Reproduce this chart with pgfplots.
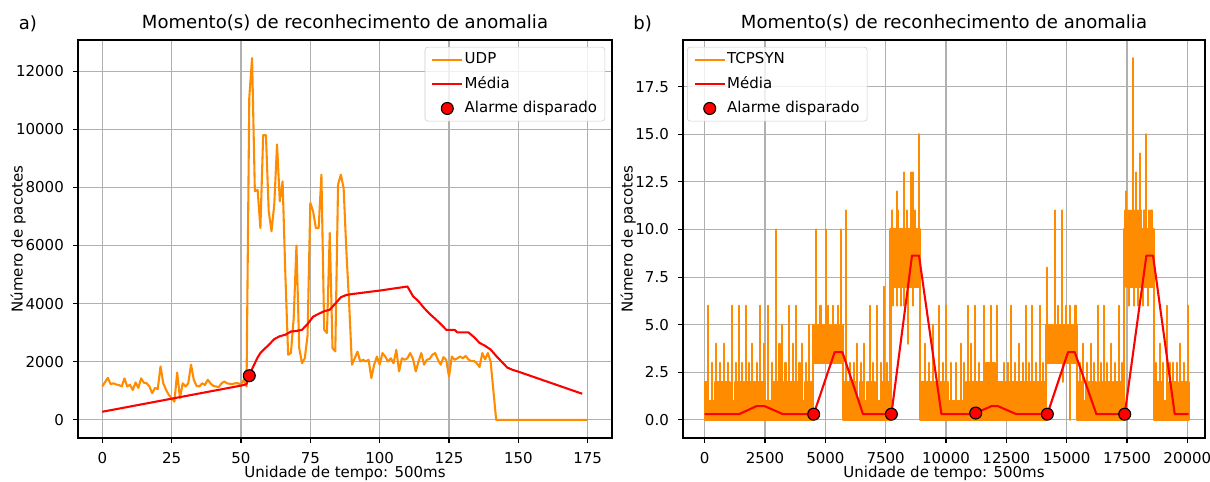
\documentclass[border=0pt]{standalone}
\usepackage{pgfplots}
\pgfplotsset{compat=1.18}
\usepackage{fontspec}
\setmainfont{DejaVu Sans}

\definecolor{serie}{RGB}{255,140,0}
\definecolor{media}{RGB}{255,0,0}
\definecolor{grade}{RGB}{176,176,176}
\definecolor{borda}{RGB}{204,204,204}

\pgfplotsset{
  painel/.style={
    scale only axis,
    axis line style={line width=0.8pt},
    grid=major,
    grid style={grade, line width=0.8pt},
    tick align=outside,
    major tick length=3.5pt,
    tick style={black, line width=0.8pt},
    xtick pos=lower, ytick pos=left,
    scaled x ticks=false, scaled y ticks=false,
    /pgf/number format/assume math mode=true,
    /pgf/number format/1000 sep={},
    /pgf/number format/fixed,
    ticklabel style={font=\fontsize{10.8}{13}\selectfont},
    xticklabel style={inner sep=0pt, anchor=north, yshift=-6.5pt},
    yticklabel style={inner sep=0pt, anchor=east, xshift=-6.5pt},
    label style={font=\fontsize{10.8}{13}\selectfont},
    xlabel style={at={(axis description cs:0.5,0)}, anchor=center, yshift=-25.5pt},
    title style={font=\fontsize{13}{15}\selectfont, at={(0.5,1)}, anchor=base, yshift=2pt},
    legend style={font=\fontsize{10.8}{13}\selectfont, draw=borda, rounded corners=2pt,
      fill=white, fill opacity=0.8, text opacity=1, draw opacity=1, inner xsep=4.5pt, inner ysep=3pt,
      row sep=5.3pt, column sep=0pt,
      nodes={inner sep=1pt, text height=8pt, text depth=2.2pt}},
    legend cell align=left,
    legend image code/.code={\draw[##1] (0pt,0pt) -- (21.6pt,0pt);},
  },
  alarme/.style={only marks, mark=*, mark size=4.3pt,
    mark options={fill=media, draw=black, line width=0.8pt, fill opacity=1, draw opacity=1},
    legend image code/.code={%
      \draw[mark repeat=2, mark phase=2, ##1]
        plot coordinates {(0pt,0pt) (10.8pt,0pt) (21.6pt,0pt)};}},
}

\begin{document}
\begin{tikzpicture}
\useasboundingbox (0,0) rectangle (871.2pt,347.04pt);

\node[anchor=base west, font=\fontsize{13}{15}\selectfont] at (10pt,326.1pt) {a)};
\node[anchor=base west, font=\fontsize{13}{15}\selectfont] at (452.5pt,326.1pt) {b)};

% ---------------- a) UDP ----------------
\begin{axis}[painel,
  at={(56.16pt,31.68pt)}, anchor=south west,
  width=384.48pt, height=286.56pt,
  xmin=-8.75, xmax=183.75, ymin=-622.5, ymax=13072.5,
  xtick={0,25,...,175}, ytick={0,2000,...,12000},
  title={Momento(s) de reconhecimento de anomalia},
  xlabel={Unidade de tempo: 500ms},
  ylabel={Número de pacotes},
  ylabel style={at={(axis description cs:-0.112,0.5)}, anchor=center},
  legend style={at={(1,1)}, anchor=north east, xshift=-5pt, yshift=-5pt},
]
\addplot[serie, line width=1.5pt, line join=round] coordinates {
(0,1150)(1,1300)(2,1450)(3,1230)(4,1260)(5,1220)(6,1200)(7,1150)(8,1430)(9,1150)
(10,1210)(11,1030)(12,1290)(13,1100)(14,1430)(15,1280)(16,1260)(17,1150)(18,920)(19,1100)
(20,1060)(21,1840)(22,1260)(23,1030)(24,860)(25,750)(26,630)(27,1630)(28,750)(29,1260)
(30,1150)(31,1260)(32,1900)(33,1380)(34,1170)(35,1150)(36,1260)(37,1200)(38,1380)(39,1260)
(40,1170)(41,1150)(42,1130)(43,1260)(44,1320)(45,1260)(46,1240)(47,1240)(48,1260)(49,1260)
(50,1210)(51,1380)(52,1150)(53,11100)(54,12450)(55,7870)(56,7920)(57,6600)(58,9800)(59,9800)
(60,7180)(61,6490)(62,7410)(63,9480)(64,7520)(65,8210)(66,5000)(67,2240)(68,2300)(69,3500)
(70,6000)(71,2470)(72,1950)(73,2120)(74,2900)(75,7470)(76,7180)(77,6600)(78,6600)(79,8440)
(80,3100)(81,2990)(82,6430)(83,2470)(84,2360)(85,8100)(86,8440)(87,7980)(88,5800)(89,4000)
(90,1900)(91,2120)(92,2350)(93,2010)(94,2070)(95,2010)(96,2070)(97,1440)(98,1900)(99,2180)
(100,1900)(101,2300)(102,2180)(103,2010)(104,2120)(105,1950)(106,2410)(107,1670)(108,2120)(109,2070)
(110,2120)(111,2300)(112,2100)(113,1670)(114,2000)(115,2300)(116,1900)(117,2070)(118,2100)(119,2240)
(120,2300)(121,2070)(122,1900)(123,2160)(124,2060)(125,1490)(126,2180)(127,2070)(128,2120)(129,2180)
(130,2120)(131,2200)(132,2080)(133,2020)(134,2030)(135,1950)(136,1820)(137,2300)(138,2080)(139,2300)
(140,2000)(141,1000)(142,0)(175,0)
};
\addlegendentry{UDP}
\addplot[media, line width=1.5pt, line join=round] coordinates {
(0,280)(10,460)(20,640)(30,820)(40,1000)(50,1180)(51,1200)(52,1230)(53,1520)(54,1750)
(55,1950)(56,2150)(57,2300)(58,2400)(60,2580)(62,2780)(64,2880)(66,2930)(68,3040)(70,3060)
(72,3100)(74,3300)(76,3550)(78,3650)(80,3740)(82,3790)(84,4000)(86,4220)(88,4300)(90,4330)
(100,4450)(110,4590)(112,4260)(114,4080)(116,3850)(118,3650)(120,3480)(122,3300)(124,3100)
(127,3100)(128,3010)(132,3010)(134,2850)(136,2650)(138,2550)(140,2420)(142,2200)(144,2000)
(146,1800)(148,1720)(150,1660)(173,900)
};
\addlegendentry{Média}
\addplot[alarme] coordinates {(53,1520)};
\addlegendentry{Alarme disparado}
\end{axis}

% ---------------- b) TCPSYN ----------------
\begin{axis}[painel,
  at={(491.76pt,31.68pt)}, anchor=south west,
  width=375.84pt, height=286.56pt,
  xmin=-899, xmax=20733, ymin=-0.95, ymax=19.95,
  xtick={0,2500,...,20000}, ytick={0,2.5,...,17.5},
  yticklabel style={/pgf/number format/.cd, fixed, fixed zerofill, precision=1},
  title={Momento(s) de reconhecimento de anomalia},
  xlabel={Unidade de tempo: 500ms},
  ylabel={Número de pacotes},
  ylabel style={at={(axis description cs:-0.105,0.5)}, anchor=center},
  legend style={at={(0,1)}, anchor=north west, xshift=3pt, yshift=-5pt},
]
% dense body of the series: envelope of the packet counts
\addplot[forget plot, draw=serie, fill=serie, line width=1.5pt, line join=round] coordinates {
(0,2)(100,2)(100,1)(430,1)(430,2)(1050,2)(1050,1)(1250,1)(1250,2)(2500,2)(2500,1)(2780,1)
(2780,2)(3950,2)(3950,1)(4160,1)(4160,2)(4490,2)(4490,5)(5733,5)(5733,2)(6250,2)(6250,1)
(6420,1)(6420,2)(6540,2)(6540,1)(6720,1)(6720,2)(7050,2)(7050,1)(7360,1)(7360,2)(7700,2)
(7700,10)(8940,10)(8940,2)(10100,2)(10100,1)(10830,1)(10830,2)(11670,2)(11670,3)(12020,3)
(12020,2)(14160,2)(14160,5)(15430,5)(15430,2)(15680,2)(15680,1)(15790,1)(15790,2)(16230,2)
(16230,1)(16370,1)(16370,2)(16780,2)(16780,1)(16920,1)(16920,2)(17365,2)(17365,10)(18610,10)
(18610,2)(18990,2)(18990,1)(19260,1)(19260,2)(19600,2)(19600,1)(19740,1)(19740,2)(20050,2)
(20050,0)(18610,0)(18610,7)(17450,7)(17450,8)(17365,8)(17365,0)(15430,0)(15430,3)(14160,3)
(14160,0)(8940,0)(8940,7)(7700,7)(7700,0)(5733,0)(5733,3)(4490,3)(4490,0)(0,0)
} -- cycle;
% isolated peaks of the series
\addplot[serie, line width=1.5pt, line join=round] coordinates {
(0,1)
(124,1)(124,6)(124,1)(300,1)(300,3)(300,1)(456,1)(456,4)(456,1)(620,1)(620,3)(620,1)
(787,1)(787,4)(787,1)(960,1)(960,3)(960,1)(1147,1)(1147,6)(1147,1)(1300,1)(1300,3)(1300,1)
(1422,1)(1422,6)(1422,1)(1560,1)(1560,3)(1560,1)(1699,1)(1699,6)(1699,1)(1850,1)(1850,3)(1850,1)
(1975,1)(1975,4)(1975,1)(2150,1)(2150,3)(2150,1)(2308,1)(2308,6)(2308,1)(2470,1)(2470,4)(2470,1)
(2640,1)(2640,6)(2640,1)(2800,1)(2800,3)(2800,1)(2942,1)(2942,10)(2942,1)(3100,1)(3100,4)(3100,1)
(3219,1)(3219,5)(3219,1)(3350,1)(3350,3)(3350,1)(3495,1)(3495,6)(3495,1)(3650,1)(3650,4)(3650,1)
(3800,1)(3800,6)(3800,1)(3930,1)(3930,3)(3930,1)(4049,1)(4049,4)(4049,1)(4200,1)(4200,3)(4200,1)
(4323,1)(4323,5)(4323,1)
(4490,1)(4490,5)
(4628,5)(4628,10)(4628,5)(4800,5)(4800,6)(4800,5)(5015,5)(5015,10)(5015,5)(5111,5)(5111,6)(5111,5)
(5319,5)(5319,6)(5319,5)(5526,5)(5526,6)(5526,5)(5664,5)(5664,10)(5664,5)
(5733,5)(5733,1)
(5870,1)(5870,11)(5870,1)(6020,1)(6020,3)(6020,1)(6175,1)(6175,3)(6175,1)(6330,1)(6330,4)(6330,1)
(6493,1)(6493,3)(6493,1)(6589,1)(6589,4)(6589,1)(6838,1)(6838,6)(6838,1)(6990,1)(6990,3)(6990,1)
(7140,1)(7140,6)(7140,1)(7300,1)(7300,3)(7300,1)(7418,1)(7418,7)(7418,1)(7560,1)(7560,3)(7560,1)
(7700,1)(7700,10)
(7776,10)(7776,11)(7776,10)(7804,10)(7804,6)(7804,10)(7957,10)(7957,12)(7957,6)(7957,10)
(8024,10)(8024,11)(8024,10)(8122,10)(8122,6)(8122,10)(8273,10)(8273,13)(8273,6)(8273,10)
(8371,10)(8371,11)(8371,10)(8440,10)(8440,4)(8440,10)(8550,10)(8550,13)(8550,10)
(8646,10)(8646,13)(8646,6)(8646,10)(8716,10)(8716,11)(8716,10)(8869,10)(8869,15)(8869,10)
(8940,10)(8940,1)
(9117,1)(9117,4)(9117,1)(9290,1)(9290,3)(9290,1)(9470,1)(9470,5)(9470,1)(9712,1)(9712,6)(9712,1)
(9870,1)(9870,3)(9870,1)(10015,1)(10015,6)(10015,1)(10200,1)(10200,3)(10200,1)(10401,1)(10401,3)(10401,1)
(10609,1)(10609,4)(10609,1)(10750,1)(10750,3)(10750,1)(10912,1)(10912,6)(10912,1)(11051,1)(11051,4)(11051,1)
(11189,1)(11189,6)(11189,1)(11380,1)(11380,3)(11380,1)(11562,1)(11562,6)(11562,1)(11742,1)(11742,3)(11742,1)
(11860,1)(11860,6)(11860,1)(12000,1)(12000,3)(12000,1)(12120,1)(12120,6)(12120,1)(12391,1)(12391,3)(12391,1)
(12550,1)(12550,3)(12550,1)(12709,1)(12709,6)(12709,1)(12870,1)(12870,3)(12870,1)(13013,1)(13013,4)(13013,1)
(13193,1)(13193,3)(13193,1)(13303,1)(13303,6)(13303,1)(13450,1)(13450,3)(13450,1)(13579,1)(13579,6)(13579,1)
(13740,1)(13740,3)(13740,1)(13883,1)(13883,6)(13883,1)(14030,1)(14030,3)(14030,1)
(14160,1)(14160,5)
(14201,5)(14201,8)(14201,5)(14505,5)(14505,11)(14505,5)(14643,5)(14643,6)(14643,5)
(14809,5)(14809,11)(14809,5)(14860,5)(14860,2)(14860,5)(14988,5)(14988,6)(14988,5)
(15126,5)(15126,0)(15126,5)(15150,5)(15150,6)(15150,5)(15334,5)(15334,6)(15334,5)(15402,5)(15402,6)(15402,5)
(15430,5)(15430,1)
(15550,1)(15550,3)(15550,1)(15678,1)(15678,4)(15678,1)(15850,1)(15850,3)(15850,1)(16023,1)(16023,4)(16023,1)
(16150,1)(16150,3)(16150,1)(16299,1)(16299,6)(16299,1)(16420,1)(16420,3)(16420,1)(16534,1)(16534,6)(16534,1)
(16680,1)(16680,3)(16680,1)(16830,1)(16830,4)(16830,1)(17000,1)(17000,3)(17000,1)(17169,1)(17169,6)(17169,1)
(17300,1)(17300,3)(17300,1)
(17365,1)(17365,10)
(17420,10)(17420,11)(17420,10)(17460,10)(17460,12)(17460,10)(17530,10)(17530,11)(17530,10)
(17585,10)(17585,6)(17585,10)(17620,10)(17620,11)(17620,10)(17690,10)(17690,11)(17690,10)
(17765,10)(17765,19)(17765,10)(17779,10)(17779,6)(17779,10)(17820,10)(17820,11)(17820,10)
(17889,10)(17889,13)(17889,10)(17959,10)(17959,6)(17959,11)(17959,10)(18027,10)(18027,14)(18027,10)
(18096,10)(18096,11)(18096,10)(18166,10)(18166,6)(18166,10)(18200,10)(18200,11)(18200,10)
(18250,10)(18250,11)(18250,10)(18303,10)(18303,15)(18303,10)(18373,10)(18373,6)(18373,10)
(18400,10)(18400,11)(18400,10)(18480,10)(18480,11)(18480,10)(18550,10)(18550,11)(18550,10)
(18610,10)(18610,1)
(18700,1)(18700,3)(18700,1)(18856,1)(18856,4)(18856,1)(19000,1)(19000,3)(19000,1)(19160,1)(19160,6)(19160,1)
(19300,1)(19300,3)(19300,1)(19408,1)(19408,3)(19408,1)(19560,1)(19560,3)(19560,1)(19712,1)(19712,4)(19712,1)
(19870,1)(19870,3)(19870,1)(20030,1)(20030,6)(20030,1)(20050,1)
};
\addlegendentry{TCPSYN}
\addplot[media, line width=1.5pt, line join=round] coordinates {
(0,0.3)(1422,0.3)(2142,0.72)(2486,0.72)(3246,0.3)(4517,0.3)(5387,3.56)(5705,3.56)(6562,0.3)
(7736,0.3)(8591,8.63)(8881,8.63)(9810,0.3)(11120,0.3)(11880,0.72)(12157,0.72)(12917,0.3)
(14200,0.3)(15057,3.56)(15334,3.56)(16232,0.3)(17406,0.3)(18304,8.63)(18580,8.63)(19478,0.3)
(20050,0.3)
};
\addlegendentry{Média}
\addplot[alarme] coordinates {(4517,0.3)(7736,0.3)(11231,0.36)(14200,0.3)(17406,0.3)};
\addlegendentry{Alarme disparado}
\end{axis}
\end{tikzpicture}
\end{document}
